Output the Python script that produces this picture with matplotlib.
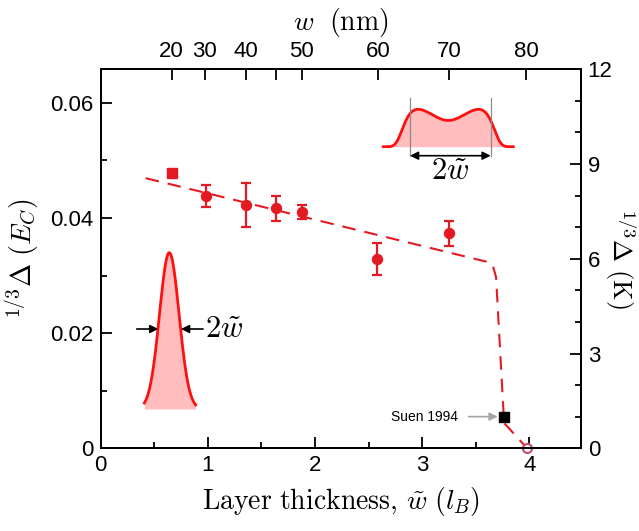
import numpy as np
import matplotlib.pyplot as plt

plt.rcParams['mathtext.fontset'] = 'cm'
plt.rcParams['font.family'] = ['Liberation Sans', 'DejaVu Sans']

# layer thickness (in l_B) and the matching width in nm for the top axis
w_tilde = [0.662, 0.973, 1.355, 1.632, 1.875, 2.59, 3.25, 3.97]
w_nm = ['20', '30', '40', '', '50', '60', '70', '80']

# gap measurements
gap_x = [0.98, 1.352, 1.632, 1.875, 2.58, 3.25]
gap_y = [0.04385, 0.04224, 0.04167, 0.04108, 0.03286, 0.03733]
gap_err = [0.0019, 0.0039, 0.0022, 0.0012, 0.0027, 0.0022]

# thinnest sample, plotted as a square
sq_x = [0.662]
sq_y = [0.04774]
sq_err = [0.0004]

# Suen 1994 point and the closing point at zero gap
suen_x, suen_y = 3.765, 0.0055
end_x, end_y = 3.98, 0.0

# guide to the eye
guide_x = [0.42, 3.60, 3.655, 3.69, 3.765, 3.98]
guide_y = [0.0469, 0.0324, 0.0320, 0.0297, 0.0044, 0.0]

red = '#e41a23'
K_per_EC = 12 / 0.0658
lab_fs = 20

fig = plt.figure(figsize=(6.39, 5.31), dpi=100)
ax = fig.add_axes([0.1576, 0.1557, 0.7512, 0.7138])

ax.plot(guide_x, guide_y, color=red, lw=1.5, dashes=(6.5, 4.3), zorder=2)
ax.errorbar(gap_x, gap_y, yerr=gap_err, fmt='o', color=red, ms=7.2,
            elinewidth=1.6, capsize=3.8, capthick=1.6, zorder=3)
ax.errorbar(sq_x, sq_y, yerr=sq_err, fmt='s', color=red, ms=6.5,
            elinewidth=1.6, capsize=3.8, capthick=1.6, zorder=3)
ax.plot([suen_x], [suen_y], 's', color='k', ms=6.5, zorder=4)
ax.plot([end_x], [end_y], 'o', mfc='white', mec='#c0506a', mew=1.5, ms=6.5,
        clip_on=False, zorder=5)

ax.annotate('Suen 1994', xy=(suen_x - 0.06, suen_y), xytext=(3.33, suen_y),
            ha='right', va='center', fontsize=10,
            arrowprops=dict(arrowstyle='-|>', color='0.65', lw=1.2,
                            shrinkA=6, shrinkB=0, mutation_scale=12))

ax.set_xlim(0, 4.48)
ax.set_ylim(0, 0.0658)
ax.set_xticks([0, 1, 2, 3, 4])
ax.set_xticks([0.5, 1.5, 2.5, 3.5], minor=True)
ax.set_yticks([0, 0.02, 0.04, 0.06])
ax.set_yticklabels(['0', '0.02', '0.04', '0.06'])
ax.set_yticks([0.01, 0.03, 0.05], minor=True)

ax.set_xlabel(r'$\mathrm{Layer\ thickness,}\,\tilde{w}\ (l_B)$', fontsize=lab_fs, labelpad=6)
ax.set_ylabel(r'${}^{1/3}\Delta\ (E_C)$', fontsize=lab_fs, labelpad=6)

# right axis in kelvin
axr = ax.twinx()
axr.set_ylim(0, 0.0658 * K_per_EC)
axr.set_yticks([0, 3, 6, 9, 12])
axr.set_yticks([1, 2, 4, 5, 7, 8, 10, 11], minor=True)
axr.set_ylabel(r'${}^{1/3}\Delta\ (\mathrm{K})$', fontsize=19, rotation=270,
               va='center', ha='center')
axr.yaxis.set_label_coords(1.082, 0.5)

# top axis in nm
axt = ax.twiny()
axt.set_xlim(ax.get_xlim())
axt.set_xticks(w_tilde)
axt.set_xticklabels(w_nm)
axt.set_xlabel(r'$w\ \ (\mathrm{nm})$', fontsize=lab_fs, labelpad=8)

for a in (ax, axr, axt):
    a.tick_params(which='major', direction='in', length=8, width=1.3,
                  labelsize=16, pad=5)
    a.tick_params(which='minor', direction='in', length=4, width=1.3)
    for s in a.spines.values():
        s.set_linewidth(1.4)
ax.tick_params(axis='both', which='both', top=False, right=False)
axr.tick_params(axis='x', which='both', top=False, bottom=False)
axt.tick_params(axis='y', which='both', left=False, right=False)
axt.tick_params(axis='x', which='minor', top=False)

# sketches of the layer wavefunctions, in pixel units
deco = fig.add_axes([0, 0, 1, 1])
deco.set_xlim(0, 639)
deco.set_ylim(531, 0)
deco.axis('off')

# narrow layer
cx, base, hgt = 169.3, 409.0, 156.3
px = np.linspace(144.3, 195.7, 300)
prof = hgt * np.exp(-(px - cx) ** 2 / (2 * 9.8 ** 2))
deco.fill_between(px, base, base - prof, color='#ffbdbd', lw=0)
deco.plot(px, base - prof, color='#ff1010', lw=2)
ya = 329.0
deco.annotate('', xy=(158.3, ya), xytext=(136.7, ya),
              arrowprops=dict(arrowstyle='-|>', color='k', lw=1.2,
                              mutation_scale=12, shrinkA=0, shrinkB=0))
deco.annotate('', xy=(181.0, ya), xytext=(203.0, ya),
              arrowprops=dict(arrowstyle='-|>', color='k', lw=1.2,
                              mutation_scale=12, shrinkA=0, shrinkB=0))
deco.text(205, ya, r'$2\tilde{w}$', fontsize=22, va='center', ha='left')

# wide layer, two humps
cx, base, hgt = 448.3, 146.7, 37.4
px = np.linspace(383.3, 513.3, 400)
u = px - cx
prof = (1 - 0.36 * np.exp(-u ** 2 / (2 * 16.0 ** 2))) * np.exp(-(u / 47.0) ** 8)
prof = hgt * prof / prof.max()
deco.fill_between(px, base, base - prof, color='#ffbdbd', lw=0)
deco.plot(px, base - prof, color='#ff1010', lw=2)
for xl in (410.0, 490.7):
    deco.plot([xl, xl], [98.3, 155.7], color='0.55', lw=0.9)
deco.annotate('', xy=(410.0, 155.7), xytext=(490.7, 155.7),
              arrowprops=dict(arrowstyle='<|-|>', color='k', lw=1.2,
                              mutation_scale=12, shrinkA=0, shrinkB=0))
deco.text(450, 171, r'$2\tilde{w}$', fontsize=22, va='center', ha='center')

fig.savefig('out.png', dpi=100)
